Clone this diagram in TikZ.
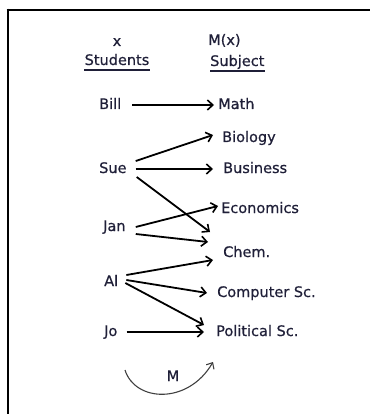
\documentclass[tikz,border=0pt]{standalone}
\usepackage{fontspec}
\setmainfont[FakeBold=0.6]{DejaVu Sans}
\usetikzlibrary{arrows.meta,calc}
\definecolor{txt}{rgb}{0.12,0.12,0.22}
\begin{document}
\begin{tikzpicture}[x=1pt,y=-1pt,
  lbl/.style={inner sep=0pt,anchor=west,text=txt,font=\fontsize{14.5}{16}\selectfont,text height=11pt,text depth=3pt},
  hdr/.style={inner sep=0pt,text=txt,font=\fontsize{14.5}{16}\selectfont,text height=11pt,text depth=3pt},
  arr/.style={line width=1.8pt,-{Straight Barb[length=5.5pt,width=10pt,line width=1.6pt]}},
  uline/.style={line width=1.8pt,draw=txt}]
\useasboundingbox (0,0) rectangle (370,414);
\draw[line width=2.8pt] (6.6,10) -- (370,10);
\draw[line width=2.8pt] (8,8.6) -- (8,414);
% headers
\node[hdr] (x) at (117,42) {x};
\node[hdr] (stud) at (117,61) {Students};
\node[lbl] (mx) at (208,41) {M(x)};
\node[lbl] (subj) at (210,62) {Subject};
\draw[uline] ($(stud.south west)+(0,2)$) -- ($(stud.south east)+(0,2)$);
\draw[uline] ($(subj.south west)+(0,2)$) -- ($(subj.south east)+(0,2)$);
% students
\node[lbl] (bill) at (99,105) {Bill};
\node[lbl] (sue) at (99,169) {Sue};
\node[lbl] (jan) at (103,227) {Jan};
\node[lbl] (al) at (104,282) {Al};
\node[lbl] (jo) at (104,332) {Jo};
% subjects
\node[lbl] (math) at (218,105) {Math};
\node[lbl] (bio) at (222,138) {Biology};
\node[lbl] (bus) at (223,169) {Business};
\node[lbl] (eco) at (221,209) {Economics};
\node[lbl] (chem) at (223,253) {Chem.};
\node[lbl] (comp) at (217,293) {Computer Sc.};
\node[lbl] (pol) at (216,332) {Political Sc.};
% arrows
\draw[arr] ($(bill.east)+(11,0)$) -- ($(math.west)+(-4,0)$);
\draw[arr] ($(sue.east)+(9,-8)$) -- ($(bio.west)+(-9,-3)$);
\draw[arr] ($(sue.east)+(9,0)$) -- ($(bus.west)+(-10,0)$);
\draw[arr] ($(sue.east)+(10,8)$) -- ($(chem.west)+(-13,-21)$);
\draw[arr] ($(jan.east)+(10,0)$) -- ($(eco.west)+(-3,-3)$);
\draw[arr] ($(jan.east)+(10,7)$) -- ($(chem.west)+(-15,-11)$);
\draw[arr] ($(al.east)+(8,-7)$) -- ($(chem.west)+(-10,7)$);
\draw[arr] ($(al.east)+(8,-2)$) -- ($(comp.west)+(-10,0)$);
\draw[arr] ($(al.east)+(7,1)$) -- ($(pol.west)+(-12,-7)$);
\draw[arr] ($(jo.east)+(9,0)$) -- ($(pol.west)+(-12,0)$);
% M curve
\node[hdr] (m) at (173,377) {M};
\draw[line width=1.1pt,draw=black!75,-{Straight Barb[length=5pt,width=9pt]}]
  ($(m)+(-48,-7)$) .. controls ($(m)+(-38,25)$) and ($(m)+(15,28)$) .. ($(m)+(40,-15)$);
\end{tikzpicture}
\end{document}
